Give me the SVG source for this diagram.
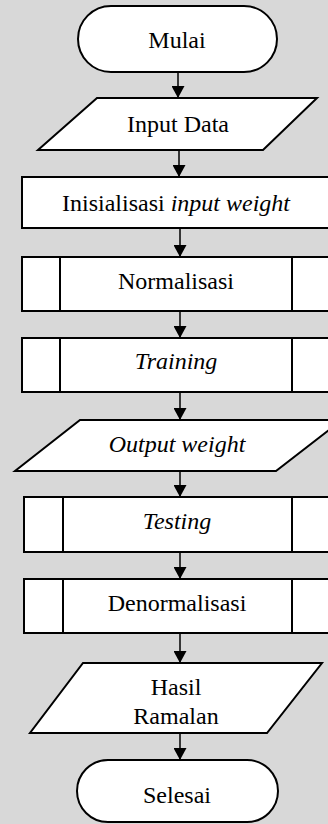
<svg xmlns="http://www.w3.org/2000/svg" width="328" height="824" viewBox="0 0 328 824">
<defs>
<style>
.s{fill:#fff;stroke:#000;stroke-width:2}
.l{stroke:#000;stroke-width:2;fill:none}
.c{stroke:#000;stroke-width:1.5;fill:none}
.t{fill:#000;text-anchor:middle}
.i{font-style:italic}
</style>
<marker id="ah" viewBox="0 0 12 13" refX="12" refY="6.5" markerWidth="12" markerHeight="13" markerUnits="userSpaceOnUse" orient="auto">
<path d="M0,0 L12,6.5 L0,13 Z" fill="#000"/>
</marker>
</defs>
<rect x="0" y="0" width="328" height="824" fill="#d8d8d8"/>
<g id="connectors">
<line class="c" x1="178" y1="72" x2="178" y2="98" marker-end="url(#ah)"/>
<line class="c" x1="179" y1="150" x2="179" y2="177" marker-end="url(#ah)"/>
<line class="c" x1="180" y1="228" x2="180" y2="257" marker-end="url(#ah)"/>
<line class="c" x1="180" y1="311" x2="180" y2="338" marker-end="url(#ah)"/>
<line class="c" x1="180" y1="392" x2="180" y2="420" marker-end="url(#ah)"/>
<line class="c" x1="180" y1="471" x2="180" y2="497" marker-end="url(#ah)"/>
<line class="c" x1="180" y1="552" x2="180" y2="579" marker-end="url(#ah)"/>
<line class="c" x1="180" y1="633" x2="180" y2="663" marker-end="url(#ah)"/>
<line class="c" x1="180" y1="733" x2="180" y2="760" marker-end="url(#ah)"/>
</g>
<g id="mulai">
<rect class="s" x="78" y="6" width="199" height="66" rx="33" ry="33"/>
<text class="t" x="177" y="48" font-family="Liberation Serif" font-size="24">Mulai</text>
</g>
<g id="input-data">
<polygon class="s" points="97,98 317,98 263,150 38,150"/>
<text class="t" x="178" y="132" font-family="Liberation Serif" font-size="24">Input Data</text>
</g>
<g id="inisialisasi">
<rect class="s" x="22" y="177" width="320" height="51"/>
<text class="t" x="176" y="211" font-family="Liberation Serif" font-size="24">Inisialisasi <tspan class="i">input weight</tspan></text>
</g>
<g id="normalisasi">
<rect class="s" x="22" y="257" width="320" height="54"/>
<line class="l" x1="60" y1="257" x2="60" y2="311"/>
<line class="l" x1="292" y1="257" x2="292" y2="311"/>
<text class="t" x="176" y="289" font-family="Liberation Serif" font-size="24">Normalisasi</text>
</g>
<g id="training">
<rect class="s" x="22" y="338" width="320" height="54"/>
<line class="l" x1="60" y1="338" x2="60" y2="392"/>
<line class="l" x1="292" y1="338" x2="292" y2="392"/>
<text class="t i" x="176" y="369" font-family="Liberation Serif" font-size="24">Training</text>
</g>
<g id="output-weight">
<polygon class="s" points="80,420 342,420 276,471 15,471"/>
<text class="t i" x="177" y="452" font-family="Liberation Serif" font-size="24">Output weight</text>
</g>
<g id="testing">
<rect class="s" x="24" y="497" width="320" height="55"/>
<line class="l" x1="63" y1="497" x2="63" y2="552"/>
<line class="l" x1="292" y1="497" x2="292" y2="552"/>
<text class="t i" x="177" y="529" font-family="Liberation Serif" font-size="24">Testing</text>
</g>
<g id="denormalisasi">
<rect class="s" x="24" y="579" width="320" height="54"/>
<line class="l" x1="63" y1="579" x2="63" y2="633"/>
<line class="l" x1="292" y1="579" x2="292" y2="633"/>
<text class="t" x="177" y="611" font-family="Liberation Serif" font-size="24">Denormalisasi</text>
</g>
<g id="hasil-ramalan">
<polygon class="s" points="83,663 322,663 267,733 30,733"/>
<text class="t" x="176" y="695" font-family="Liberation Serif" font-size="24">Hasil</text>
<text class="t" x="176" y="724" font-family="Liberation Serif" font-size="24">Ramalan</text>
</g>
<g id="selesai">
<rect class="s" x="77" y="760" width="201" height="62" rx="31" ry="31"/>
<text class="t" x="177" y="803" font-family="Liberation Serif" font-size="24">Selesai</text>
</g>
</svg>
